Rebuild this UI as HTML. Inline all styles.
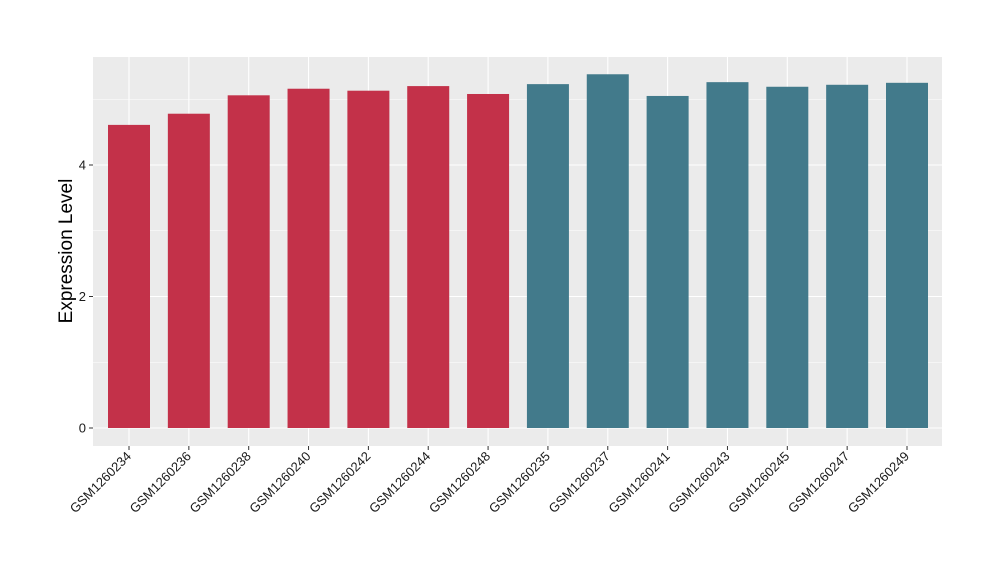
<!DOCTYPE html>
<html><head><meta charset="utf-8"><style>
body{margin:0;background:#fff;}
svg{display:block;font-family:"Liberation Sans",Arial,sans-serif;}
</style></head><body>
<svg id="chart" width="1000" height="580">
<rect x="93" y="57" width="849" height="389" fill="#ebebeb"/>
<g id="grid"></g><g id="bars"></g><g id="axes"></g>
<text x="72" y="251" font-size="19" text-anchor="middle" transform="rotate(-90 72 251)" fill="#000">Expression Level</text>
</svg>
<script>
const categories=["GSM1260234","GSM1260236","GSM1260238","GSM1260240","GSM1260242","GSM1260244","GSM1260248","GSM1260235","GSM1260237","GSM1260241","GSM1260243","GSM1260245","GSM1260247","GSM1260249"];
const values=[4.61,4.78,5.06,5.16,5.13,5.20,5.08,5.23,5.38,5.05,5.26,5.19,5.22,5.25];
const groups=[0,0,0,0,0,0,0,1,1,1,1,1,1,1];
const yTicks=[0,2,4];
const colors=["#c33149","#427a8b"];
const NS="http://www.w3.org/2000/svg";
const x0=129,step=(907-129)/(categories.length-1),bw=42;
const xs=i=>x0+i*step;
const ys=v=>428-v*65.75;
function mk(t,a,p){const e=document.createElementNS(NS,t);for(const k in a)e.setAttribute(k,a[k]);p.appendChild(e);return e;}
const grid=document.getElementById('grid'),bars=document.getElementById('bars'),axes=document.getElementById('axes');
for(let v=-1;v<=5;v+=1){const y=ys(v);if(y<57||y>446)continue;const major=yTicks.includes(v);
 const l=mk('line',{x1:93,x2:942,y1:y,y2:y,stroke:'#fff','stroke-width':major?1.1:0.5},grid);
 
 }
categories.forEach((c,i)=>{const l=mk('line',{x1:xs(i),x2:xs(i),y1:57,y2:446,stroke:'#fff','stroke-width':1.1},grid);
 
 });
categories.forEach((c,i)=>{
 const r=mk('rect',{x:xs(i)-bw/2,y:ys(values[i]),width:bw,height:ys(0)-ys(values[i]),fill:colors[groups[i]]},bars);
 
 
 const t=mk('line',{x1:xs(i),x2:xs(i),y1:446,y2:450,stroke:'#333'},axes);
 
 
 const tx=mk('text',{x:xs(i)+3,y:457,'font-size':13,'text-anchor':'end',fill:'#1a1a1a',transform:`rotate(-45 ${xs(i)+3} 457)`},axes);
 tx.textContent=c;
 
 });
yTicks.forEach(v=>{const y=ys(v);
 const t=mk('line',{x1:89,x2:93,y1:y,y2:y,stroke:'#333'},axes);
 
 
 const tx=mk('text',{x:86,y:y+4.5,'font-size':13,'text-anchor':'end',fill:'#1a1a1a'},axes);
 tx.textContent=v;
 
 });
</script>
</body></html>
